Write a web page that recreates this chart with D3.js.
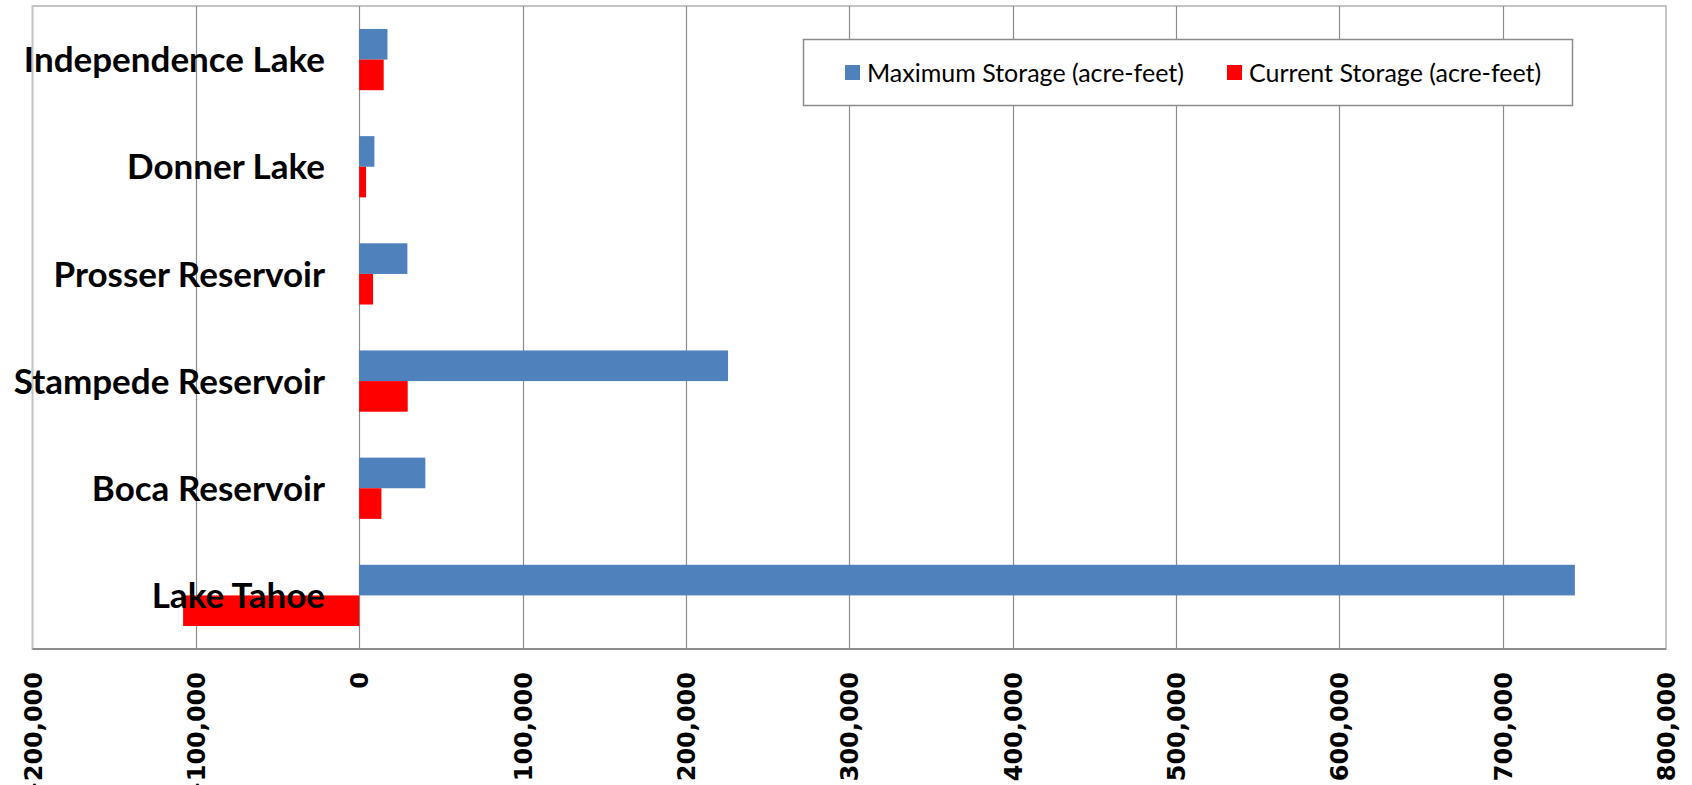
<!DOCTYPE html>
<html>
<head>
<meta charset="utf-8">
<script src="https://cdn.jsdelivr.net/npm/d3@7"></script>
<style>
  html, body { margin: 0; padding: 0; background: #ffffff; }
  svg { display: block; }
</style>
</head>
<body>
<svg id="chart" width="1692" height="785"></svg>
<script>
// Truckee River system reservoirs, storage in acre-feet
const reservoirs = ["Independence Lake", "Donner Lake", "Prosser Reservoir", "Stampede Reservoir", "Boca Reservoir", "Lake Tahoe"];
const maximumStorage = [17300, 9300, 29500, 225800, 40500, 744200];
const currentStorage = [15000, 4200, 8500, 29700, 13600, -107800];
const seriesNames = ["Maximum Storage (acre-feet)", "Current Storage (acre-feet)"];
const seriesColors = ["#4F81BD", "#FF0000"];
const xTicks = [-200000, -100000, 0, 100000, 200000, 300000, 400000, 500000, 600000, 700000, 800000];

const svg = d3.select("#chart");
const plot = { left: 32.5, right: 1666, top: 6, bottom: 649 };

const x = d3.scaleLinear().domain([-200000, 800000]).range([plot.left, plot.right]);

// Excel-style 150% gap width: bar pair takes 2/3.5 of each category slot
const y = d3.scaleBand().domain(reservoirs).range([plot.top, plot.bottom])
  .paddingInner(1.5 / 3.5).paddingOuter(0.75 / 3.5);
const ySeries = d3.scaleBand().domain([0, 1]).range([0, y.bandwidth()]);

const rows = reservoirs.map((name, i) => ({ name, values: [maximumStorage[i], currentStorage[i]] }));

// plot area background and border
svg.append("rect")
  .attr("x", plot.left).attr("y", plot.top)
  .attr("width", plot.right - plot.left).attr("height", plot.bottom - plot.top)
  .attr("fill", "#ffffff").attr("stroke", "#c4c4c4").attr("stroke-width", 2);

// vertical gridlines
svg.append("g")
  .selectAll("line")
  .data(xTicks.slice(1, -1))
  .join("line")
  .attr("x1", d => Math.round(x(d)) + 0.5).attr("x2", d => Math.round(x(d)) + 0.5)
  .attr("y1", plot.top).attr("y2", plot.bottom)
  .attr("stroke", "#8c8c8c").attr("stroke-width", 1.2);

// bars
const groups = svg.append("g").selectAll("g")
  .data(rows)
  .join("g")
  .attr("transform", d => `translate(0,${y(d.name)})`);

groups.selectAll("rect")
  .data(d => d.values.map((v, k) => ({ v, k })))
  .join("rect")
  .attr("x", d => x(Math.min(0, d.v)))
  .attr("width", d => Math.abs(x(d.v) - x(0)))
  .attr("y", d => ySeries(d.k))
  .attr("height", ySeries.bandwidth())
  .attr("fill", d => seriesColors[d.k]);

// bottom axis line
svg.append("line")
  .attr("x1", plot.left).attr("x2", plot.right)
  .attr("y1", plot.bottom).attr("y2", plot.bottom)
  .attr("stroke", "#8c8c8c").attr("stroke-width", 2);

// x axis tick labels, rotated
const xAxis = d3.axisBottom(x).tickValues(xTicks).tickSize(0).tickFormat(d3.format(","));
const gx = svg.append("g").attr("transform", `translate(0,${plot.bottom})`).call(xAxis);
gx.select(".domain").remove();
gx.selectAll("text")
  .attr("transform", "translate(0,23) rotate(-90)")
  .attr("x", 0).attr("y", 0).attr("dy", "0.36em")
  .attr("text-anchor", "end")
  .attr("font-family", "DejaVu Sans")
  .attr("font-weight", "bold")
  .attr("font-size", 24)
  .attr("fill", "#000000");

// category labels, drawn over the plot
const yAxis = d3.axisLeft(y).tickSize(0).tickPadding(0);
const gy = svg.append("g").attr("transform", `translate(325,0)`).call(yAxis);
gy.select(".domain").remove();
gy.selectAll("text")
  .attr("x", 0).attr("dy", "0.36em")
  .attr("text-anchor", "end")
  .attr("font-family", "Lato")
  .attr("font-weight", "bold")
  .attr("font-size", 35)
  .attr("fill", "#000000");

// legend
const legend = svg.append("g");
legend.append("rect")
  .attr("x", 803.5).attr("y", 39.5).attr("width", 769).attr("height", 66)
  .attr("fill", "#ffffff").attr("stroke", "#8c8c8c").attr("stroke-width", 1.5);
const legendX = [845, 1227];
const items = legend.selectAll("g.item")
  .data(seriesNames)
  .join("g")
  .attr("class", "item")
  .attr("transform", (d, i) => `translate(${legendX[i]},72.5)`);
items.append("rect")
  .attr("x", 0).attr("y", -7.5).attr("width", 15).attr("height", 15)
  .attr("fill", (d, i) => seriesColors[i]);
items.append("text")
  .attr("x", 22).attr("y", 0).attr("dy", "0.36em")
  .attr("font-family", "Lato")
  .attr("font-size", 25)
  .attr("fill", "#000000")
  .text(d => d);
</script>
</body>
</html>
